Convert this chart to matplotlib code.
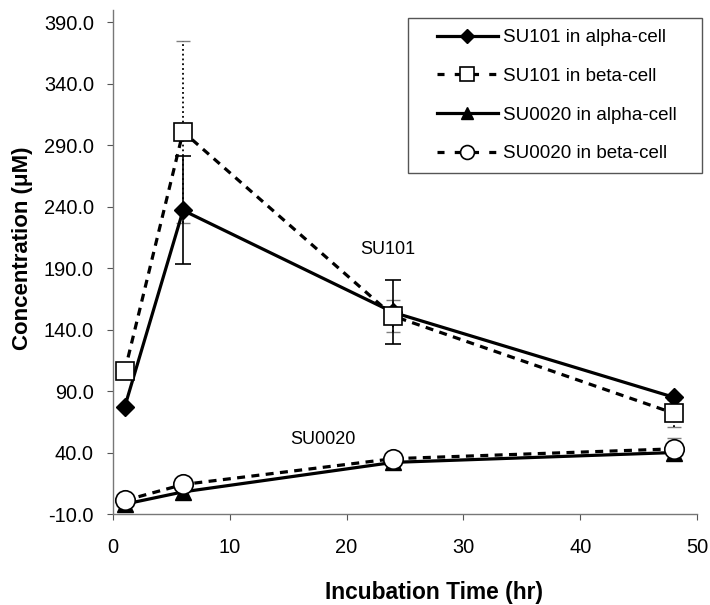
import matplotlib
matplotlib.use("Agg")
import matplotlib.pyplot as plt
from matplotlib.patches import Rectangle
from matplotlib.lines import Line2D
import numpy as np

# Dados
tempo = [1, 6, 24, 48]
su101_alpha = [77, 237, 154, 85]
su101_alpha_err = [0, 44, 26, 0]
su101_beta = [106, 301, 151, 72]
su101_beta_err = [0, 74, 13, 11]
su0020_alpha = [-2, 8, 32, 40]
su0020_beta = [1, 14, 35, 43]
su0020_beta_err = [0, 0, 0, 9]

rotulos = ['SU101 in alpha-cell', 'SU101 in beta-cell',
           'SU0020 in alpha-cell', 'SU0020 in beta-cell']
yticks = np.arange(-10, 391, 50)
xticks = [0, 10, 20, 30, 40, 50]

plt.rcParams['font.family'] = ['Liberation Sans', 'DejaVu Sans']

fig = plt.figure(figsize=(7.1, 6.05), dpi=100)
ax = fig.add_axes([113 / 710, 1 - 514 / 605, 584 / 710, 504 / 605])

lw = 2.3
dash = (0, (2.5, 2.0))
# SU101 alpha
ax.plot(tempo, su101_alpha, color='black', lw=lw, marker='D', ms=9,
        mfc='black', mec='black', zorder=4)
ax.errorbar(tempo, su101_alpha, yerr=su101_alpha_err, fmt='none', ecolor='black',
            elinewidth=1.2, capsize=6, capthick=1.2, zorder=3)
# SU101 beta
ax.plot(tempo, su101_beta, color='black', lw=lw, ls=dash, marker='s', ms=13,
        mfc='white', mec='black', mew=1.2, zorder=5)
eb = ax.errorbar(tempo, su101_beta, yerr=su101_beta_err, fmt='none', ecolor='black',
                 elinewidth=1.3, capsize=5, capthick=1.0, zorder=2)
eb[-1][0].set_linestyle(':')
for c in eb[1]:
    c.set_alpha(0.5)
# SU0020 alpha
ax.plot(tempo, su0020_alpha, color='black', lw=lw, marker='^', ms=11,
        mfc='black', mec='black', zorder=4)
# SU0020 beta
ax.plot(tempo, su0020_beta, color='black', lw=lw, ls=dash, marker='o', ms=14,
        mfc='white', mec='black', mew=1.2, zorder=5)
eb2 = ax.errorbar(tempo, su0020_beta, yerr=su0020_beta_err, fmt='none', ecolor='black',
                  elinewidth=1.3, capsize=5, capthick=1.0, zorder=2)
eb2[-1][0].set_linestyle(':')
for c in eb2[1]:
    c.set_alpha(0.5)

ax.text(23.5, 205, 'SU101', fontsize=13, ha='center', va='center')
ax.text(18.0, 51, 'SU0020', fontsize=13, ha='center', va='center')

ax.set_xlim(0, 50)
ax.set_ylim(-10, 400)
ax.set_xticks(xticks)
ax.set_yticks(yticks)
ax.set_yticklabels([f"{v:.1f}" for v in yticks])
ax.tick_params(direction='out', length=4, labelsize=14.4, color='#555555')
ax.tick_params(axis='y', pad=9.7)
ax.tick_params(axis='x', pad=13.2)
for s in ['top', 'right']:
    ax.spines[s].set_visible(False)
for s in ['left', 'bottom']:
    ax.spines[s].set_color('#777777')
    ax.spines[s].set_linewidth(1.0)

ax.set_xlabel('Incubation Time (hr)', fontsize=16.4, fontweight='bold')
ax.set_ylabel('Concentration (\u03bcM)', fontsize=16, fontweight='bold')
ax.xaxis.set_label_coords(0.55, -0.133)
ax.yaxis.set_label_coords(-0.137, 0.528)

# Legenda: alças próprias (traços mais espaçados, marcadores menores)
leg_dash = (0, (2.2, 3.2))
handles = [
    Line2D([], [], color='black', lw=lw, marker='D', ms=7, mfc='black'),
    Line2D([], [], color='black', lw=lw, ls=leg_dash, marker='s', ms=10,
           mfc='white', mec='black', mew=1.2),
    Line2D([], [], color='black', lw=lw, marker='^', ms=9, mfc='black'),
    Line2D([], [], color='black', lw=lw, ls=leg_dash, marker='o', ms=10,
           mfc='white', mec='black', mew=1.2),
]
ax.add_patch(Rectangle((408 / 710, 1 - 173 / 605), 294 / 710, 155 / 605,
                       transform=fig.transFigure, clip_on=False, facecolor='white',
                       edgecolor='#555555', lw=1.0, zorder=1))
leg = ax.legend(handles, rotulos, loc='upper left',
                bbox_to_anchor=(437 / 710, 1 - 29 / 605),
                bbox_transform=fig.transFigure, fontsize=13.5, handlelength=3.25,
                labelspacing=1.15, borderpad=0, borderaxespad=0, handletextpad=0.27,
                frameon=False)
leg.set_zorder(6)

fig.savefig('out.png', dpi=100)
